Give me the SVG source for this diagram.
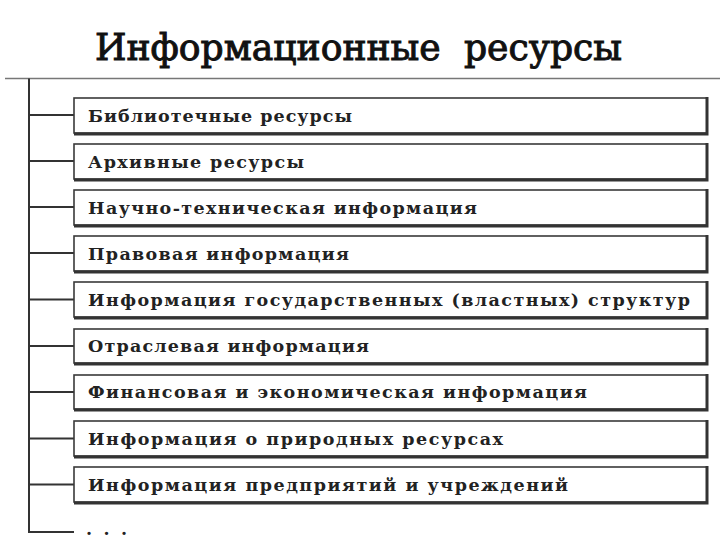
<svg xmlns="http://www.w3.org/2000/svg" width="720" height="540" viewBox="0 0 720 540">
<style>
.box{fill:#fff;stroke:#3a3a3a;stroke-width:1.6}
.edge{stroke:#333;stroke-width:3;fill:none}
.lbl{font-size:17.5px;font-weight:bold;fill:#222}
.conn{stroke:#333;stroke-width:2;fill:none}
</style>
<rect width="720" height="540" fill="#fff"/>
<text font-family="'DejaVu Serif', 'Liberation Serif', serif" font-size="37" fill="#111" stroke="#111" stroke-width="1" word-spacing="12" x="95" y="60" textLength="527" lengthAdjust="spacingAndGlyphs">Информационные ресурсы</text>
<g id="connectors">
<line x1="5" y1="78.5" x2="720" y2="78.5" stroke="#777" stroke-width="1.5"/>
<line class="conn" x1="29" y1="78.5" x2="29" y2="533"/>
<line class="conn" x1="29" y1="115" x2="74" y2="115"/>
<line class="conn" x1="29" y1="161" x2="74" y2="161"/>
<line class="conn" x1="29" y1="207" x2="74" y2="207"/>
<line class="conn" x1="29" y1="253" x2="74" y2="253"/>
<line class="conn" x1="29" y1="299.5" x2="74" y2="299.5"/>
<line class="conn" x1="29" y1="346" x2="74" y2="346"/>
<line class="conn" x1="29" y1="392" x2="74" y2="392"/>
<line class="conn" x1="29" y1="438.5" x2="74" y2="438.5"/>
<line class="conn" x1="29" y1="484.5" x2="74" y2="484.5"/>
<line class="conn" x1="28" y1="532" x2="74" y2="532"/>
</g>
<g font-family="'DejaVu Serif', 'Liberation Serif', serif">
<g id="n1"><rect class="box" x="74" y="98" width="633" height="35"/><path class="edge" d="M707 97V134H74"/><text class="lbl" x="88" y="121.5" textLength="264" lengthAdjust="spacing">Библиотечные ресурсы</text></g>
<g id="n2"><rect class="box" x="74" y="144" width="633" height="35"/><path class="edge" d="M707 143V180H74"/><text class="lbl" x="88" y="167.5" textLength="216" lengthAdjust="spacing">Архивные ресурсы</text></g>
<g id="n3"><rect class="box" x="74" y="190" width="633" height="35"/><path class="edge" d="M707 189V226H74"/><text class="lbl" x="88" y="213.5" textLength="389" lengthAdjust="spacing">Научно-техническая информация</text></g>
<g id="n4"><rect class="box" x="74" y="236" width="633" height="35"/><path class="edge" d="M707 235V272H74"/><text class="lbl" x="88" y="259.5" textLength="261" lengthAdjust="spacing">Правовая информация</text></g>
<g id="n5"><rect class="box" x="74" y="282" width="633" height="35"/><path class="edge" d="M707 281V318H74"/><text class="lbl" x="88" y="305.5" textLength="602" lengthAdjust="spacing">Информация государственных (властных) структур</text></g>
<g id="n6"><rect class="box" x="74" y="329" width="633" height="34"/><path class="edge" d="M707 328V364H74"/><text class="lbl" x="88" y="352" textLength="281" lengthAdjust="spacing">Отраслевая информация</text></g>
<g id="n7"><rect class="box" x="74" y="375" width="633" height="34"/><path class="edge" d="M707 374V410H74"/><text class="lbl" x="88" y="398" textLength="499" lengthAdjust="spacing">Финансовая и экономическая информация</text></g>
<g id="n8"><rect class="box" x="74" y="421" width="633" height="35"/><path class="edge" d="M707 420V457H74"/><text class="lbl" x="88" y="444.5" textLength="415" lengthAdjust="spacing">Информация о природных ресурсах</text></g>
<g id="n9"><rect class="box" x="74" y="467" width="633" height="35"/><path class="edge" d="M707 466V503H74"/><text class="lbl" x="88" y="490.5" textLength="480" lengthAdjust="spacing">Информация предприятий и учреждений</text></g>
<g id="n10"><text class="lbl" x="86" y="535" textLength="41" lengthAdjust="spacing">. . .</text></g>
</g>
</svg>
